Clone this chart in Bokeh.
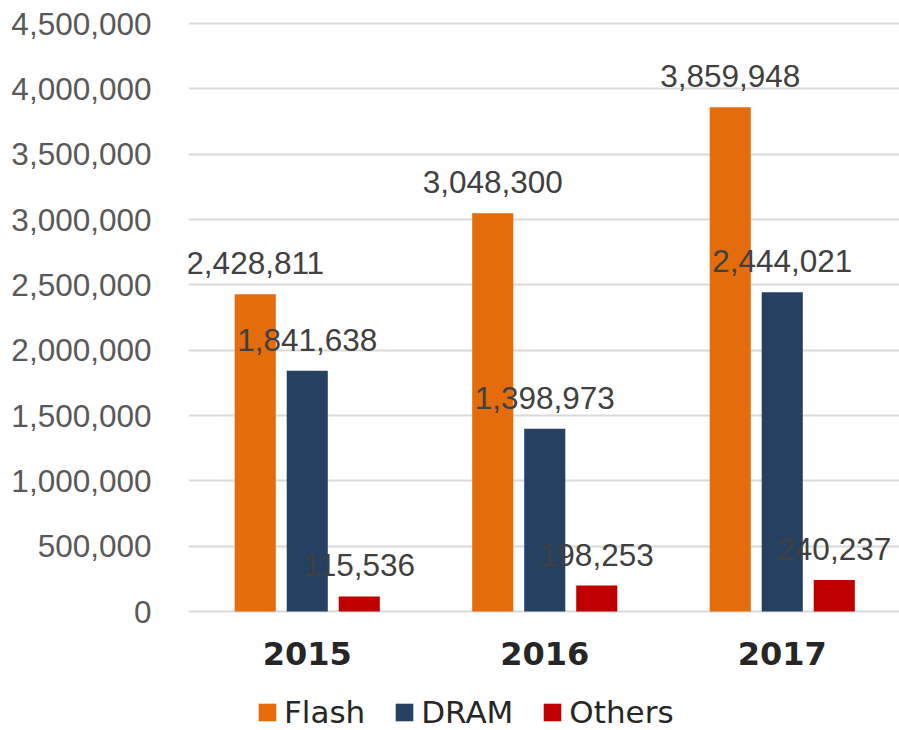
from bokeh.plotting import figure
from bokeh.models import (ColumnDataSource, Range1d, FixedTicker, NumeralTickFormatter,
                          Legend, LegendItem)
from bokeh.core.properties import value
from bokeh.embed import file_html
from bokeh.resources import INLINE

years = ["2015", "2016", "2017"]
flash = [2428811, 3048300, 3859948]
dram = [1841638, 1398973, 2444021]
others = [115536, 198253, 240237]
series_names = ["Flash", "DRAM", "Others"]
colors = ["#E46C0A", "#254061", "#C00000"]
y_ticks = [0, 500000, 1000000, 1500000, 2000000, 2500000, 3000000, 3500000, 4000000, 4500000]

W, H = 899, 730
left, right, top, bottom = 188, 0, 21, 0
zero_px = 611           # screen row of the value 0
frame_w = W - left - right
cat_px = 237.5
y_max = 4500000
px_per_unit = 588 / y_max

p = figure(width=W, height=H, output_backend="svg", toolbar_location=None,
           x_range=Range1d(-0.5, -0.5 + frame_w / cat_px),
           y_range=Range1d(-(H - bottom - zero_px) / px_per_unit, (zero_px - top) / px_per_unit),
           min_border_left=left, min_border_right=right,
           min_border_top=top, min_border_bottom=bottom)
p.outline_line_color = None
p.background_fill_color = "white"
p.border_fill_color = "white"

offsets = [-0.219, 0.0, 0.219]
bar_w = 0.173
items = []
for name, vals, col, off in zip(series_names, [flash, dram, others], colors, offsets):
    src = ColumnDataSource(dict(x=[i + off for i in range(len(years))], top=vals,
                                label=[f"{v:,}" for v in vals]))
    r = p.vbar(x="x", top="top", bottom=0, width=bar_w, source=src, fill_color=col,
               line_color=None)
    p.text(x="x", y="top", text="label", source=src, text_align="center",
           text_baseline="alphabetic", y_offset=-31, text_color="#404040",
           text_font=value("Liberation Sans"), text_font_size="31.5px")
    items.append(LegendItem(label=name, renderers=[r]))

# axes
p.yaxis.ticker = FixedTicker(ticks=y_ticks)
p.yaxis.formatter = NumeralTickFormatter(format="0,0")
p.yaxis.axis_line_color = None
p.yaxis.major_tick_line_color = None
p.yaxis.minor_tick_line_color = None
p.yaxis.major_label_standoff = 31
p.yaxis.major_label_text_font = "Liberation Sans"
p.yaxis.major_label_text_font_size = "31.5px"
p.yaxis.major_label_text_color = "#595959"

p.xaxis.fixed_location = 0
p.xaxis.ticker = FixedTicker(ticks=list(range(len(years))))
p.xaxis.major_label_overrides = {i: y for i, y in enumerate(years)}
p.xaxis.axis_line_color = None
p.xaxis.major_tick_line_color = None
p.xaxis.minor_tick_line_color = None
p.xaxis.major_label_standoff = 24
p.xaxis.major_label_text_font = "DejaVu Sans"
p.xaxis.major_label_text_font_style = "bold"
p.xaxis.major_label_text_font_size = "32px"
p.xaxis.major_label_text_color = "#262626"

p.xgrid.grid_line_color = None
p.ygrid.grid_line_color = "#D9D9D9"
p.ygrid.grid_line_width = 2

legend = Legend(items=items, orientation="horizontal", location=(68, 0),
                glyph_width=22, glyph_height=22, label_standoff=6, spacing=28,
                padding=0, margin=0, border_line_color=None, background_fill_alpha=0,
                label_text_font="DejaVu Sans", label_text_font_size="31px",
                label_text_color="#262626")
p.add_layout(legend, "center")

open("out.html", "w").write(file_html(p, INLINE))
